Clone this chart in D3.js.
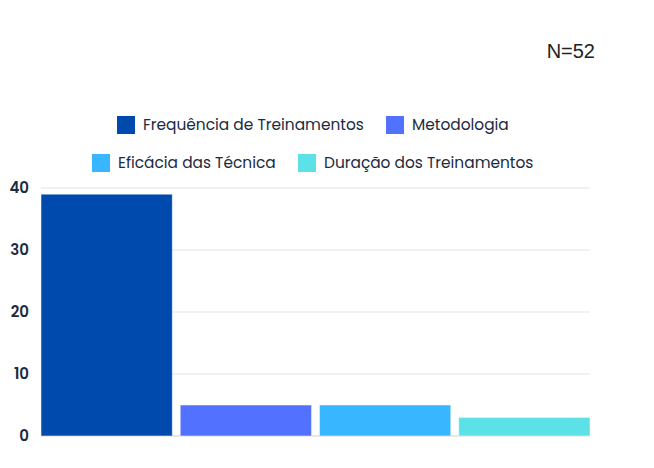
<!DOCTYPE html>
<html>
<head>
<meta charset="utf-8">
<script src="https://cdn.jsdelivr.net/npm/d3@7"></script>
<style>
  body { margin: 0; background: #fff; }
  text { font-family: "Poppins", "Inter", "Noto Sans", sans-serif; }
</style>
</head>
<body>
<script>
// chart data
var categories = ["Frequência de Treinamentos", "Metodologia", "Eficácia das Técnica", "Duração dos Treinamentos"];
var values = [39, 5, 5, 3];
var colors = ["#004AAD", "#5271FF", "#38B6FF", "#5CE1E6"];
var yTicks = [0, 10, 20, 30, 40];
var totalLabel = "N=52";

var width = 654, height = 468;
var margin = { top: 188, right: 64, bottom: 32, left: 41 };
var plotW = width - margin.left - margin.right;
var plotH = height - margin.top - margin.bottom;

var svg = d3.select("body").append("svg")
  .attr("width", width)
  .attr("height", height);

svg.append("text")
  .attr("x", 595)
  .attr("y", 58)
  .attr("text-anchor", "end")
  .style("font-family", "'Liberation Sans', Arial, sans-serif")
  .style("font-size", "20px")
  .attr("fill", "#222")
  .text(totalLabel);

var g = svg.append("g")
  .attr("transform", "translate(" + margin.left + "," + margin.top + ")");

var x = d3.scaleBand()
  .domain(categories)
  .range([0, plotW])
  .paddingInner(0.057)
  .paddingOuter(0);

var y = d3.scaleLinear()
  .domain([0, 40])
  .range([plotH, 0]);

// grid lines
g.selectAll(".grid")
  .data(yTicks)
  .enter().append("line")
  .attr("x1", 0)
  .attr("x2", plotW)
  .attr("y1", function(d) { return y(d); })
  .attr("y2", function(d) { return y(d); })
  .attr("stroke", function(d) { return d === 0 ? "#cfcfcf" : "#e3e3e3"; })
  .attr("stroke-width", 1);

// bars
g.selectAll(".bar")
  .data(values)
  .enter().append("rect")
  .attr("x", function(d, i) { return x(categories[i]); })
  .attr("y", function(d) { return y(d); })
  .attr("width", x.bandwidth())
  .attr("height", function(d) { return plotH - y(d); })
  .attr("fill", function(d, i) { return colors[i]; })
  .attr("stroke", "rgba(255,255,255,0.5)")
  .attr("stroke-width", 1);

// y axis labels
var yAxis = d3.axisLeft(y).tickValues(yTicks).tickSize(0).tickPadding(12);
var ya = g.append("g").call(yAxis);
ya.select(".domain").remove();
ya.selectAll("text")
  .style("font-size", "15px")
  .style("font-weight", "600")
  .attr("fill", "#1b2b40");

// legend
var legendRows = [
  { y: 125, items: [{ i: 0, x: 117 }, { i: 1, x: 386 }] },
  { y: 163, items: [{ i: 2, x: 92 }, { i: 3, x: 298 }] }
];
legendRows.forEach(function(row) {
  row.items.forEach(function(it) {
    svg.append("rect")
      .attr("x", it.x)
      .attr("y", row.y - 9)
      .attr("width", 18)
      .attr("height", 18)
      .attr("fill", colors[it.i]);
    svg.append("text")
      .attr("x", it.x + 26)
      .attr("y", row.y)
      .attr("dy", "0.35em")
      .style("font-size", "15.4px")
      .attr("fill", "#1b2b40")
      .text(categories[it.i]);
  });
});
</script>
</body>
</html>
